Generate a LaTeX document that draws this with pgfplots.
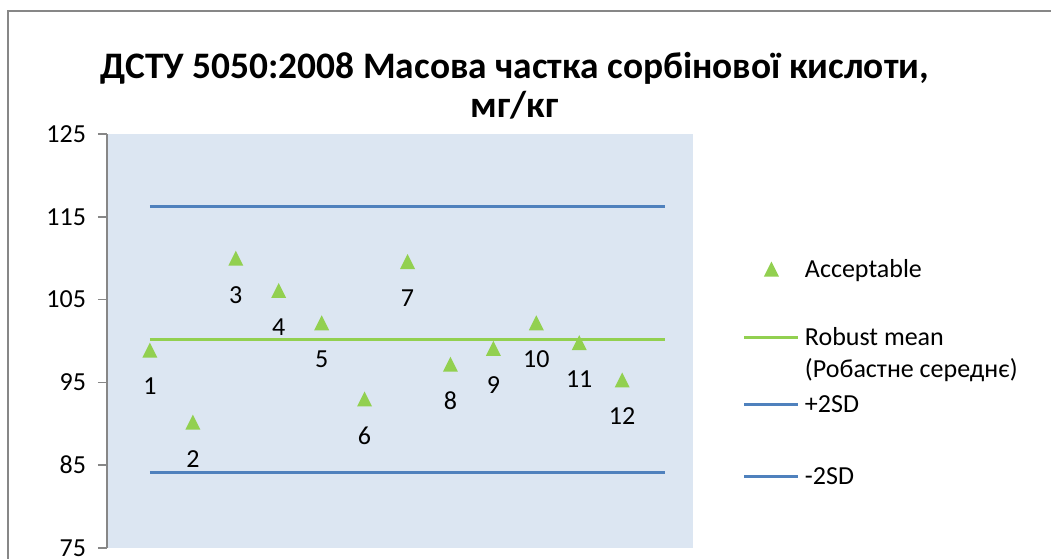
\documentclass[border=0pt]{standalone}
\usepackage{fontspec}
\setmainfont{Carlito}
\usepackage{pgfplots}
\pgfplotsset{compat=1.18}
\definecolor{plotbg}{HTML}{DCE6F2}
\definecolor{exgreen}{HTML}{92D050}
\definecolor{exblue}{HTML}{4F81BD}
\definecolor{exgrey}{HTML}{878787}
\pgfdeclareplotmark{etri}{%
  \pgfpathmoveto{\pgfqpoint{0pt}{\pgfplotmarksize}}%
  \pgfpathlineto{\pgfqpoint{\pgfplotmarksize}{-\pgfplotmarksize}}%
  \pgfpathlineto{\pgfqpoint{-\pgfplotmarksize}{-\pgfplotmarksize}}%
  \pgfpathclose\pgfusepathqfill}
\pgfplotsset{
  lineleg/.style 2 args={legend image code/.code={\path (0pt,-#1) (27pt,#2); \draw[##1] (0pt,4pt) -- (27pt,4pt);}},
  markleg/.style 2 args={legend image code/.code={\path (0pt,-#1) (27pt,#2); \draw[##1] plot coordinates {(13.5pt,4pt)};}},
}
\begin{document}
\begin{tikzpicture}
\path[use as bounding box] (0,0) rectangle (525.5pt,279pt);
\draw[exgrey, line width=0.75pt] (4pt,-2pt) -- (4pt,273.5pt) -- (530pt,273.5pt);
\begin{axis}[
  scale only axis,
  width=293pt, height=207pt,
  at={(53.5pt,5pt)}, anchor=south west,
  xmin=0, xmax=13.65,
  ymin=75, ymax=125,
  ytick={75,85,95,105,115,125},
  axis x line=none,
  axis y line*=left,
  axis line style={exgrey, line width=0.75pt},
  y axis line style={-},
  tick align=outside,
  major tick length=4.5pt,
  tick style={exgrey, line width=0.75pt},
  tick label style={font=\fontsize{13}{15.6}\selectfont},
  yticklabel style={xshift=-2.5pt},
  /pgf/number format/assume math mode=true,
  axis background/.style={fill=plotbg},
  clip=false,
  title={ДСТУ 5050:2008 Масова частка сорбінової кислоти,\\мг/кг},
  title style={at={(0.696,1.0877)}, anchor=center, align=center,
    font=\bfseries\fontsize{18.7}{19.5}\selectfont},
  legend style={at={(1.0853,0.7063)}, anchor=north west, draw=none, fill=none,
    inner sep=0pt, outer sep=0pt, row sep=0pt,
    font=\fontsize{13}{15.6}\selectfont,
    cells={anchor=base west},
    nodes={inner xsep=2.5pt, inner ysep=0pt}},
]
\addplot[only marks, mark=etri, mark size=3.75pt, color=exgreen,
  point meta=x, nodes near coords,
  every node near coord/.append style={anchor=center, yshift=-18.25pt, color=black,
    font=\fontsize{13}{15.6}\selectfont},
  markleg={23pt}{10.5pt}]
  coordinates {(1,98.9) (2,90.2) (3,110.0) (4,106.1) (5,102.2) (6,93.0)
               (7,109.6) (8,97.2) (9,99.1) (10,102.2) (11,99.8) (12,95.3)};
\addlegendentry{Acceptable}
\addplot[exgreen, line width=1.5pt, no marks, lineleg={4.3pt}{10.5pt}]
  coordinates {(1,100.2) (13,100.2)};
\addlegendentry{Robust mean}
\addlegendimage{legend image code/.code={\path (0pt,-6.3pt) (0pt,10.5pt);}}
\addlegendentry{(Робастне середнє)}
\addplot[exblue, line width=1.5pt, no marks, lineleg={23.7pt}{10.5pt}]
  coordinates {(1,116.2) (13,116.2)};
\addlegendentry{+2SD}
\addplot[exblue, line width=1.5pt, no marks, lineleg={3pt}{10.5pt}]
  coordinates {(1,84.1) (13,84.1)};
\addlegendentry{-2SD}
\end{axis}
\end{tikzpicture}
\end{document}
